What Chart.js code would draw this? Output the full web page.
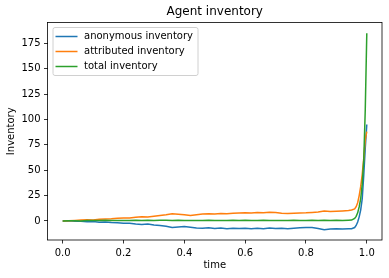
<!DOCTYPE html>
<html>
<head>
<meta charset="utf-8">
<script src="https://cdn.jsdelivr.net/npm/chart.js@4"></script>
<style>
  html, body { margin: 0; padding: 0; background: #fff; }
  #wrap { width: 389px; height: 278px; }
</style>
</head>
<body>
<div id="wrap"><canvas id="myChart" width="389" height="278"></canvas></div>
<script>
const times = [
    0, 0.02, 0.04, 0.06, 0.08, 0.10, 0.12, 0.14, 0.16, 0.18,
    0.20, 0.22, 0.24, 0.26, 0.28, 0.30, 0.32, 0.34, 0.36, 0.38,
    0.40, 0.42, 0.44, 0.46, 0.48, 0.50, 0.52, 0.54, 0.56, 0.58,
    0.60, 0.62, 0.64, 0.66, 0.68, 0.70, 0.72, 0.74, 0.76, 0.78,
    0.80, 0.82, 0.84, 0.86, 0.88, 0.90, 0.92, 0.94,
    0.95, 0.96, 0.965, 0.97, 0.975, 0.98, 0.985, 0.99, 0.995, 1.0
];
const anonymous = [
    0, 0.2, -0.3, -0.2, -0.8, -0.6, -1.2, -1.0, -1.6, -1.9,
    -2.4, -2.2, -3.0, -3.4, -3.1, -4.0, -4.6, -5.2, -6.4, -6.0,
    -5.6, -6.3, -6.9, -7.2, -6.8, -7.4, -7.0, -7.6, -7.2, -7.5,
    -7.1, -7.8, -7.3, -7.6, -7.0, -7.4, -7.2, -7.8, -7.3, -6.8,
    -6.5, -6.6, -7.4, -8.6, -8.0, -7.6, -7.9, -7.7,
    -7.6, -6.5, -4.5, -1, 4, 11, 22, 45, 72, 95
];
const attributed = [
    0, 0.1, 0.5, 0.8, 1.2, 1.0, 1.6, 1.9, 2.1, 2.6,
    3.0, 2.8, 3.6, 4.0, 3.9, 4.6, 5.3, 6.0, 7.0, 6.6,
    6.0, 5.4, 6.2, 6.8, 7.0, 6.9, 7.4, 7.1, 7.6, 7.9,
    8.1, 7.7, 8.3, 8.0, 8.6, 8.2, 7.6, 7.3, 7.5, 7.8,
    8.0, 8.4, 8.9, 9.8, 9.4, 9.6, 9.9, 10.3,
    10.8, 11.8, 14, 18, 25, 34, 46, 62, 80, 88
];
const total = [
    0, 0.1, 0.2, -0.1, 0.3, 0.4, 0.3, 0.6, 0.4, 0.5,
    0.5, 0.4, 0.6, 0.5, 0.7, 0.5, 0.6, 0.7, 0.5, 0.6,
    0.4, 0.3, 0.5, 0.4, 0.6, 0.3, 0.5, 0.4, 0.6, 0.5,
    0.7, 0.4, 0.5, 0.6, 0.4, 0.5, 0.3, 0.4, 0.6, 0.5,
    0.4, 0.6, 0.5, 0.7, 0.4, 0.6, 0.5, 0.7,
    0.8, 2.5, 4.5, 8, 14, 22, 36, 60, 110, 185
];
const xTicks = [0, 0.2, 0.4, 0.6, 0.8, 1.0];
const yTicks = [0, 25, 50, 75, 100, 125, 150, 175];

Chart.defaults.font.family = "'DejaVu Sans', sans-serif";
Chart.defaults.font.size = 10;
Chart.defaults.color = "#000";

function pts(values){
    return values.map(function(v, i){ return {x: times[i], y: v}; });
}

// axes frame + matplotlib style legend in the upper left corner
const framePlugin = {
    id: 'frame',
    afterDraw: function(chart){
        const c = chart.ctx;
        const a = chart.chartArea;
        c.save();
        c.strokeStyle = "#000";
        c.lineWidth = 0.8;
        c.strokeRect(a.left, a.top, a.right - a.left, a.bottom - a.top);

        const sets = chart.data.datasets;
        c.font = "10px 'DejaVu Sans'";
        let maxW = 0;
        sets.forEach(function(d){ maxW = Math.max(maxW, c.measureText(d.label).width); });
        const x0 = a.left + 5.5, y0 = a.top + 5;
        c.fillStyle = "rgba(255,255,255,0.8)";
        c.strokeStyle = "#d0d0d0";
        c.lineWidth = 1;
        c.beginPath();
        c.roundRect(x0, y0, 31 + maxW + 5, sets.length * 15 + 3, 2);
        c.fill();
        c.stroke();

        c.textBaseline = "middle";
        c.textAlign = "left";
        sets.forEach(function(d, i){
            const y = y0 + 9 + i * 15;
            c.strokeStyle = d.borderColor;
            c.lineWidth = 1.5;
            c.beginPath();
            c.moveTo(x0 + 2.5, y);
            c.lineTo(x0 + 24.5, y);
            c.stroke();
            c.fillStyle = "#000";
            c.fillText(d.label, x0 + 31, y);
        });
        c.restore();
    }
};

new Chart(document.getElementById('myChart'), {
    type: 'line',
    data: {
        datasets: [
            { label: 'anonymous inventory', data: pts(anonymous), borderColor: '#1f77b4', backgroundColor: '#1f77b4', order: 3 },
            { label: 'attributed inventory', data: pts(attributed), borderColor: '#ff7f0e', backgroundColor: '#ff7f0e', order: 2 },
            { label: 'total inventory', data: pts(total), borderColor: '#2ca02c', backgroundColor: '#2ca02c', order: 1 }
        ]
    },
    options: {
        responsive: false,
        animation: false,
        layout: { padding: { left: 0, right: 7, top: 0, bottom: 0 } },
        elements: {
            line: { borderWidth: 1.5, tension: 0 },
            point: { radius: 0 }
        },
        plugins: {
            tooltip: { enabled: false },
            legend: { display: false },
            title: {
                display: true,
                text: 'Agent inventory',
                fullSize: false,
                font: { size: 12, weight: 'normal' },
                color: '#000',
                padding: { top: 5, bottom: 3.1 }
            }
        },
        scales: {
            x: {
                type: 'linear',
                min: -0.05,
                max: 1.05,
                afterFit: function(s){ s.height = 38; },
                afterBuildTicks: function(s){ s.ticks = xTicks.map(function(v){ return {value: v}; }); },
                ticks: {
                    padding: 3.5,
                    maxRotation: 0,
                    callback: function(v){ return v.toFixed(1); }
                },
                grid: { drawOnChartArea: false, drawTicks: true, tickLength: 3.5, color: '#000', lineWidth: 0.8 },
                border: { display: false },
                title: { display: true, text: 'time', padding: { top: 0, bottom: 7 } }
            },
            y: {
                min: -18.8,
                max: 195.6,
                afterFit: function(s){ s.width = 47.5; },
                afterBuildTicks: function(s){ s.ticks = yTicks.map(function(v){ return {value: v}; }); },
                ticks: { padding: 3.5 },
                grid: { drawOnChartArea: false, drawTicks: true, tickLength: 3.5, color: '#000', lineWidth: 0.8 },
                border: { display: false },
                title: { display: true, text: 'Inventory', padding: { top: 5, bottom: 0 } }
            }
        }
    },
    plugins: [framePlugin]
});
</script>
</body>
</html>
